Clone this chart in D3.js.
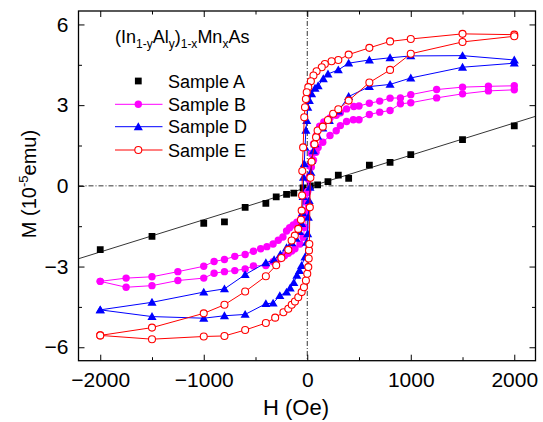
<!DOCTYPE html>
<html><head><meta charset="utf-8">
<script src="https://cdn.jsdelivr.net/npm/d3@7"></script>
<style>body{margin:0;background:#fff}text{font-family:"Liberation Sans",Arial,sans-serif;fill:#000}</style>
</head><body>
<svg id="c" width="543" height="422"></svg>
<script>
// ---- data ----
const xTicks=[-2000,-1000,0,1000,2000];
const xMinor=[-1500,-500,500,1500];
const yTicks=[-6,-3,0,3,6];
const yMinor=[-4.5,-1.5,1.5,4.5];
const sampleNames=["Sample A","Sample B","Sample D","Sample E"];
const sampleColors=["#000000","#ff00ff","#0000ff","#ff0000"];
// Sample A (linear), [H, M]
const sampleA=[[-2000,-2.37],[-1500,-1.88],[-1000,-1.39],[-800,-1.34],[-600,-0.80],[-400,-0.65],[-300,-0.41],[-200,-0.32],[-130,-0.27],[-40,-0.08],[30,0.0],[100,0.04],[200,0.16],[300,0.40],[400,0.28],[600,0.77],[800,0.87],[1000,1.16],[1500,1.72],[2000,2.23]];
const fitA=[[-2210,-2.71],[2210,2.59]];
// Sample B: descending branch then ascending branch
const sampleBDown=[[2000,3.72],[1750,3.70],[1500,3.67],[1250,3.58],[1000,3.39],[900,3.27],[800,3.26],[700,3.15],[600,3.07],[500,2.97],[450,2.95],[380,2.86],[320,2.72],[280,2.62],[220,2.52],[160,2.38],[120,2.22],[90,1.87],[60,1.56],[40,1.20],[25,0.75],[12,0.25],[0,-0.25],[-10,-0.6],[-30,-1.05],[-55,-1.17],[-100,-1.35],[-135,-1.45],[-170,-1.56],[-200,-1.68],[-235,-1.90],[-280,-2.02],[-330,-2.16],[-390,-2.26],[-450,-2.34],[-520,-2.43],[-600,-2.55],[-700,-2.62],[-800,-2.74],[-900,-2.81],[-1000,-2.99],[-1250,-3.19],[-1500,-3.38],[-1750,-3.43],[-2000,-3.55]];
const sampleBUp=[[-2000,-3.55],[-1750,-3.77],[-1500,-3.71],[-1250,-3.52],[-1000,-3.43],[-900,-3.25],[-800,-3.19],[-700,-3.15],[-600,-3.09],[-520,-2.98],[-400,-2.96],[-330,-2.82],[-265,-2.71],[-220,-2.60],[-183,-2.51],[-150,-2.42],[-119,-2.34],[-70,-2.16],[-40,-1.91],[-25,-1.55],[-10,-0.95],[5,-0.2],[20,0.35],[40,0.70],[60,0.95],[85,1.25],[105,1.43],[150,1.62],[220,1.87],[280,2.05],[320,2.24],[380,2.39],[445,2.46],[500,2.46],[600,2.65],[700,2.74],[800,2.80],[900,3.05],[1000,3.09],[1250,3.27],[1500,3.42],[1750,3.53],[2000,3.57]];
// Sample D
const sampleDDown=[[2000,4.68],[1500,4.84],[1000,4.83],[800,4.76],[600,4.68],[400,4.56],[300,4.31],[200,4.16],[155,3.98],[105,3.72],[75,3.63],[42,3.42],[20,3.17],[5,2.92],[-5,2.43],[-13,2.06],[-22,1.43],[-29,0.82],[-36,0.32],[-40,-0.4],[-45,-1.0],[-55,-1.4],[-75,-1.70],[-110,-1.95],[-150,-2.12],[-200,-2.30],[-260,-2.55],[-320,-2.75],[-400,-2.86],[-600,-3.30],[-800,-3.83],[-1000,-3.95],[-1500,-4.33],[-2000,-4.61]];
const sampleDUp=[[-2000,-4.61],[-1500,-4.86],[-1000,-4.92],[-800,-4.83],[-600,-4.78],[-400,-4.38],[-330,-4.36],[-265,-4.08],[-200,-3.95],[-165,-3.80],[-130,-3.60],[-100,-3.33],[-75,-3.15],[-55,-2.96],[-22,-2.65],[-6,-2.10],[4,-1.78],[10,-1.17],[18,-0.55],[26,-0.05],[35,0.50],[42,0.94],[60,1.30],[74,1.56],[100,1.85],[150,2.15],[213,2.43],[300,2.78],[400,3.32],[600,3.69],[800,3.77],[1000,4.01],[1500,4.41],[2000,4.56]];
// Sample E
const sampleEDown=[[2000,5.62],[1500,5.65],[1000,5.46],[800,5.37],[600,5.13],[400,4.88],[300,4.68],[235,4.63],[170,4.53],[140,4.41],[90,4.26],[60,4.10],[35,3.89],[10,3.67],[-5,3.48],[-13,3.23],[-22,2.92],[-29,2.55],[-40,1.43],[-48,0.55],[-50,-0.36],[-54,-0.92],[-61,-1.26],[-87,-1.60],[-120,-1.85],[-151,-2.03],[-183,-2.38],[-250,-2.68],[-300,-2.95],[-400,-3.36],[-600,-3.93],[-800,-4.42],[-1000,-4.74],[-1500,-5.27],[-2000,-5.56]];
const sampleEUp=[[-2000,-5.56],[-1500,-5.70],[-1000,-5.60],[-800,-5.58],[-600,-5.36],[-400,-5.10],[-310,-4.90],[-230,-4.70],[-183,-4.57],[-150,-4.42],[-119,-4.30],[-87,-4.14],[-54,-3.95],[-32,-3.77],[-13,-3.52],[0,-3.27],[10,-3.02],[14,-2.70],[17,-2.40],[20,-2.16],[25,-0.8],[30,0.3],[42,0.9],[70,1.55],[85,1.81],[100,2.06],[150,2.20],[200,2.45],[250,2.68],[300,2.85],[400,3.17],[600,3.84],[800,4.31],[1000,4.91],[1500,5.35],[2000,5.56]];

// ---- layout ----
const svg=d3.select("#c");
const L=78.5,R=535.5,T=11,B=360.7;
const x=d3.scaleLinear().domain([-2210,2205]).range([L,R]);
const y=d3.scaleLinear().domain([-6.5,6.5]).range([B,T]);

svg.append("defs").append("clipPath").attr("id","clip").append("rect")
  .attr("x",L).attr("y",T).attr("width",R-L).attr("height",B-T);

// zero lines (dash-dot)
const dd="5,2,1,2";
svg.append("line").attr("x1",L).attr("x2",R).attr("y1",y(0)).attr("y2",y(0))
  .attr("stroke","#000").attr("stroke-width",0.8).attr("stroke-dasharray",dd);
svg.append("line").attr("x1",x(0)).attr("x2",x(0)).attr("y1",T).attr("y2",B)
  .attr("stroke","#000").attr("stroke-width",0.8).attr("stroke-dasharray",dd);

// axes
function styleAxis(g){g.select(".domain").remove();g.selectAll("line").attr("stroke","#000").attr("stroke-width",1);}
const fs=21;
svg.append("g").attr("transform",`translate(0,${B})`)
  .call(d3.axisBottom(x).tickValues(xTicks).tickSize(-6).tickPadding(11).tickFormat(d3.format("d")))
  .call(styleAxis).call(g=>g.selectAll("text").attr("font-size",fs).style("font-family","Liberation Sans, Arial, sans-serif"));
svg.append("g").attr("transform",`translate(0,${B})`)
  .call(d3.axisBottom(x).tickValues(xMinor).tickSize(-3.5).tickFormat("")).call(styleAxis);
svg.append("g").attr("transform",`translate(0,${T})`)
  .call(d3.axisTop(x).tickValues(xTicks).tickSize(-6).tickFormat("")).call(styleAxis);
svg.append("g").attr("transform",`translate(0,${T})`)
  .call(d3.axisTop(x).tickValues(xMinor).tickSize(-3.5).tickFormat("")).call(styleAxis);
svg.append("g").attr("transform",`translate(${L},0)`)
  .call(d3.axisLeft(y).tickValues(yTicks).tickSize(-6).tickPadding(10).tickFormat(d3.format("d")))
  .call(styleAxis).call(g=>g.selectAll("text").attr("font-size",fs).style("font-family","Liberation Sans, Arial, sans-serif"));
svg.append("g").attr("transform",`translate(${L},0)`)
  .call(d3.axisLeft(y).tickValues(yMinor).tickSize(-3.5).tickFormat("")).call(styleAxis);
svg.append("g").attr("transform",`translate(${R},0)`)
  .call(d3.axisRight(y).tickValues(yTicks).tickSize(-6).tickFormat("")).call(styleAxis);
svg.append("g").attr("transform",`translate(${R},0)`)
  .call(d3.axisRight(y).tickValues(yMinor).tickSize(-3.5).tickFormat("")).call(styleAxis);

// frame
svg.append("rect").attr("x",L).attr("y",T).attr("width",R-L).attr("height",B-T)
  .attr("fill","none").attr("stroke","#000").attr("stroke-width",1.3);

// axis titles
svg.append("text").attr("x",296).attr("y",415).attr("text-anchor","middle")
  .attr("font-size",22).text("H (Oe)");
const yl=svg.append("text").attr("transform",`translate(36,184) rotate(-90)`)
  .attr("text-anchor","middle").attr("font-size",20);
yl.append("tspan").text("M (10");
yl.append("tspan").attr("font-size",13).attr("dy",-8).text("-5");
yl.append("tspan").attr("dy",8).text("emu)");

// plotting
const line=d3.line().x(d=>x(d[0])).y(d=>y(d[1]));
const plot=svg.append("g").attr("clip-path","url(#clip)");
plot.append("path").attr("d",line(fitA)).attr("fill","none").attr("stroke","#000").attr("stroke-width",0.8);

const sq=d3.symbol().type(d3.symbolSquare).size(46);
const tri=d3.symbol().type(d3.symbolTriangle).size(36);

plot.selectAll(".a").data(sampleA).join("path").attr("class","a")
  .attr("transform",d=>`translate(${x(d[0])},${y(d[1])})`).attr("d",sq).attr("fill","#000");

function loop(down,up,color,marker){
  const pts=down.concat(up.slice(1));
  plot.append("path").attr("d",line(pts)).attr("fill","none").attr("stroke",color).attr("stroke-width",1);
  marker(plot.append("g").selectAll("g").data(down.concat(up)).join("g")
    .attr("transform",d=>`translate(${x(d[0])},${y(d[1])})`));
}
loop(sampleBDown,sampleBUp,sampleColors[1],s=>s.append("circle").attr("r",3.7).attr("fill",sampleColors[1]));
loop(sampleDDown,sampleDUp,sampleColors[2],s=>s.append("path").attr("d",tri).attr("transform","translate(0,0.8)").attr("fill",sampleColors[2]));
loop(sampleEDown,sampleEUp,sampleColors[3],s=>s.append("circle").attr("r",3.5).attr("fill","#fff").attr("stroke",sampleColors[3]).attr("stroke-width",1.1));

// legend title
const tt=svg.append("text").attr("x",115).attr("y",42.5).attr("font-size",18);
const parts=[["(In",0],["1-y",1],["Al",0],["y",1],[")",0],["1-x",1],["Mn",0],["x",1],["As",0]];
let prev=0;
parts.forEach(([t,s])=>{
  const dy=(s?5:0)-prev; prev=s?5:0;
  tt.append("tspan").attr("dy",dy).attr("font-size",s?12:18).text(t);
});

// legend entries
const lg=svg.append("g");
const ly=[81,104.3,126.7,150];
sampleNames.forEach((n,i)=>{
  if(i>0) lg.append("line").attr("x1",115).attr("x2",162.5).attr("y1",ly[i]).attr("y2",ly[i]).attr("stroke",sampleColors[i]).attr("stroke-width",1);
  const g=lg.append("g").attr("transform",`translate(138.3,${ly[i]})`);
  if(i===0) g.append("path").attr("d",sq).attr("fill","#000");
  if(i===1) g.append("circle").attr("r",3.7).attr("fill",sampleColors[1]);
  if(i===2) g.append("path").attr("d",tri).attr("transform","translate(0,0.8)").attr("fill",sampleColors[2]);
  if(i===3) g.append("circle").attr("r",3.5).attr("fill","#fff").attr("stroke",sampleColors[3]).attr("stroke-width",1.1);
  lg.append("text").attr("x",168).attr("y",ly[i]+6.5).attr("font-size",18).text(n);
});
</script>
</body></html>
